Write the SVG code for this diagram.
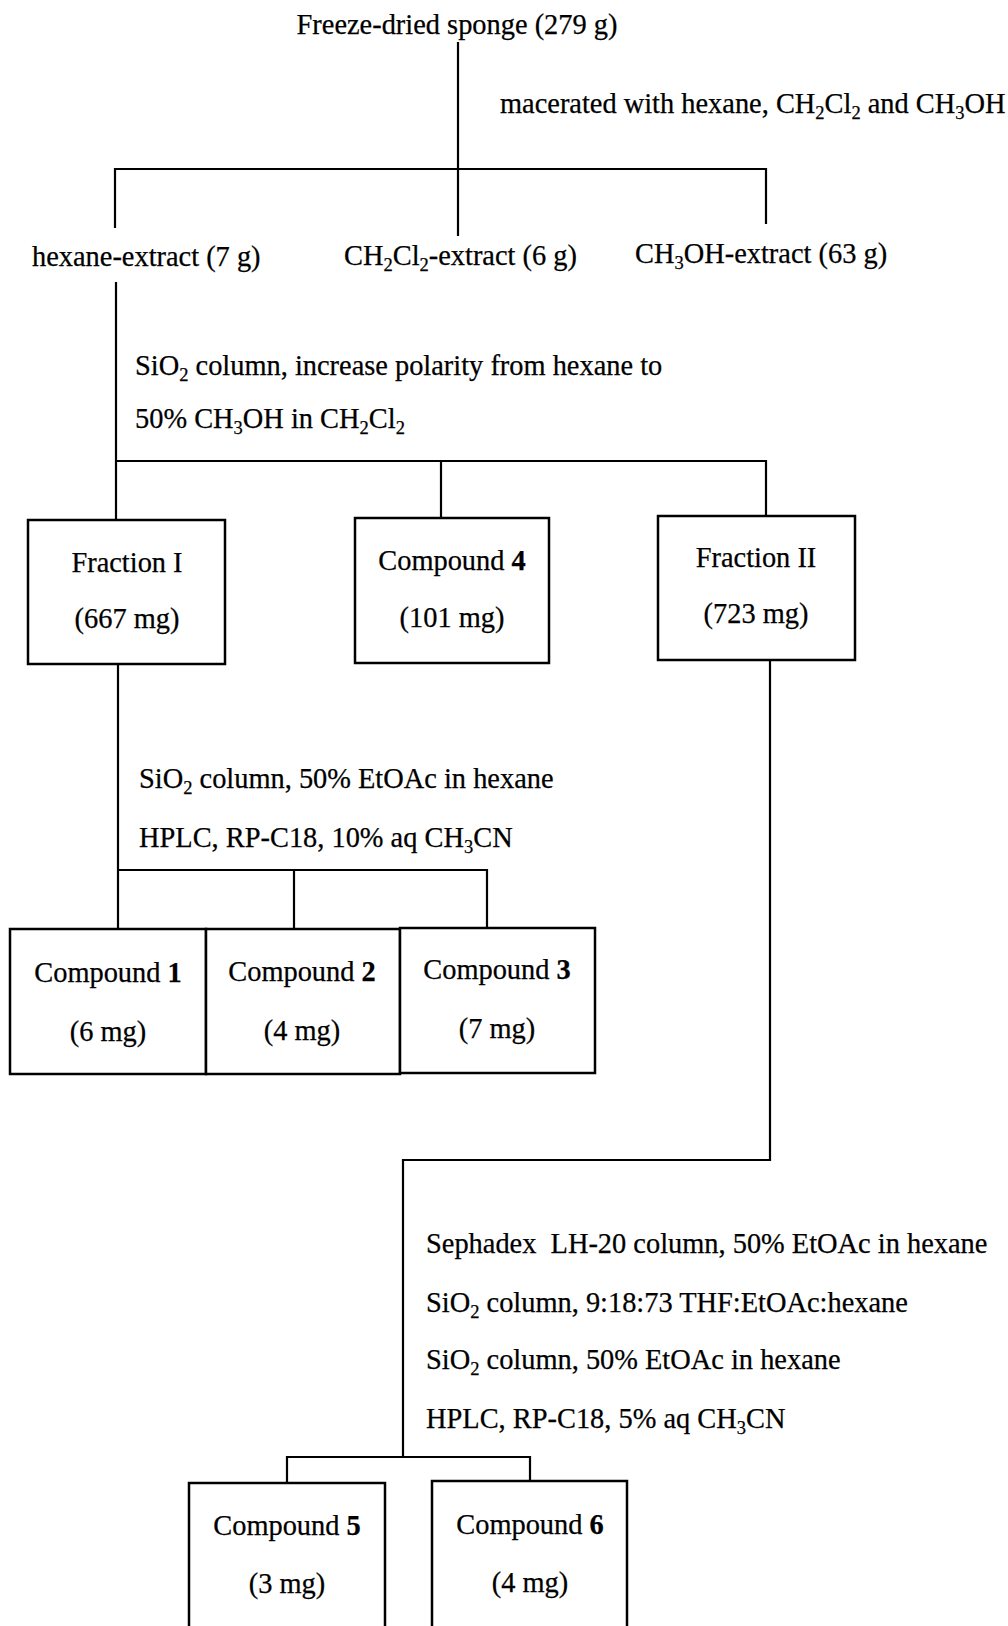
<svg xmlns="http://www.w3.org/2000/svg" width="1008" height="1626" viewBox="0 0 1008 1626">
<style>
text{font-family:"Liberation Serif","Times New Roman",serif;font-size:28.4px;fill:#000;stroke:#000;stroke-width:0.25}
.m{text-anchor:middle}
.s{font-size:18.5px}
.b{font-weight:bold}
.box{fill:#fff;stroke:#000;stroke-width:2.5}
.ln{fill:none;stroke:#000;stroke-width:2.2}
</style>
<rect width="1008" height="1626" fill="#fff"/>
<g id="connectors">
<path class="ln" d="M458 42V236"/>
<path class="ln" d="M115 228V169H766V224"/>
<path class="ln" d="M116 282V520"/>
<path class="ln" d="M116 461H766V516"/>
<path class="ln" d="M441 461V518"/>
<path class="ln" d="M118 664V929"/>
<path class="ln" d="M118 870H487V929"/>
<path class="ln" d="M294 870V929"/>
<path class="ln" d="M770 660V1160H403V1457"/>
<path class="ln" d="M287 1483V1457H530V1482"/>
</g>
<g id="step-labels">
<text x="500" y="113">macerated with hexane, CH<tspan class="s" dy="6">2</tspan><tspan dy="-6">Cl</tspan><tspan class="s" dy="6">2</tspan><tspan dy="-6"> and CH</tspan><tspan class="s" dy="6">3</tspan><tspan dy="-6">OH</tspan></text>
<text x="135" y="375">SiO<tspan class="s" dy="6">2</tspan><tspan dy="-6"> column, increase polarity from hexane to</tspan></text>
<text x="135" y="428">50% CH<tspan class="s" dy="6">3</tspan><tspan dy="-6">OH in CH</tspan><tspan class="s" dy="6">2</tspan><tspan dy="-6">Cl</tspan><tspan class="s" dy="6">2</tspan></text>
<text x="139" y="788">SiO<tspan class="s" dy="6">2</tspan><tspan dy="-6"> column, 50% EtOAc in hexane</tspan></text>
<text x="139" y="847">HPLC, RP-C18, 10% aq CH<tspan class="s" dy="6">3</tspan><tspan dy="-6">CN</tspan></text>
<text x="426" y="1253" xml:space="preserve">Sephadex  LH-20 column, 50% EtOAc in hexane</text>
<text x="426" y="1312">SiO<tspan class="s" dy="6">2</tspan><tspan dy="-6"> column, 9:18:73 THF:EtOAc:hexane</tspan></text>
<text x="426" y="1369">SiO<tspan class="s" dy="6">2</tspan><tspan dy="-6"> column, 50% EtOAc in hexane</tspan></text>
<text x="426" y="1428">HPLC, RP-C18, 5% aq CH<tspan class="s" dy="6">3</tspan><tspan dy="-6">CN</tspan></text>
</g>
<g id="sponge"><text class="m" x="457" y="34">Freeze-dried sponge (279 g)</text></g>
<g id="hexane-extract"><text x="32" y="266">hexane-extract (7 g)</text></g>
<g id="ch2cl2-extract"><text x="344" y="265">CH<tspan class="s" dy="6">2</tspan><tspan dy="-6">Cl</tspan><tspan class="s" dy="6">2</tspan><tspan dy="-6">-extract (6 g)</tspan></text></g>
<g id="ch3oh-extract"><text x="635" y="263">CH<tspan class="s" dy="6">3</tspan><tspan dy="-6">OH-extract (63 g)</tspan></text></g>
<g id="fraction-1"><rect class="box" x="28" y="520" width="197" height="144"/><text class="m" x="127" y="572">Fraction I</text><text class="m" x="127" y="628">(667 mg)</text></g>
<g id="compound-4"><rect class="box" x="355" y="518" width="194" height="145"/><text class="m" x="452" y="570">Compound <tspan class="b">4</tspan></text><text class="m" x="452" y="627">(101 mg)</text></g>
<g id="fraction-2"><rect class="box" x="658" y="516" width="197" height="144"/><text class="m" x="756" y="567">Fraction II</text><text class="m" x="756" y="623">(723 mg)</text></g>
<g id="compound-1"><rect class="box" x="10" y="929" width="196" height="145"/><text class="m" x="108" y="982">Compound <tspan class="b">1</tspan></text><text class="m" x="108" y="1041">(6 mg)</text></g>
<g id="compound-2"><rect class="box" x="206" y="929" width="194" height="145"/><text class="m" x="302" y="981">Compound <tspan class="b">2</tspan></text><text class="m" x="302" y="1040">(4 mg)</text></g>
<g id="compound-3"><rect class="box" x="400" y="928" width="195" height="145"/><text class="m" x="497" y="979">Compound <tspan class="b">3</tspan></text><text class="m" x="497" y="1038">(7 mg)</text></g>
<g id="compound-5"><rect class="box" x="189" y="1483" width="196" height="160"/><text class="m" x="287" y="1535">Compound <tspan class="b">5</tspan></text><text class="m" x="287" y="1593">(3 mg)</text></g>
<g id="compound-6"><rect class="box" x="432" y="1481" width="195" height="160"/><text class="m" x="530" y="1534">Compound <tspan class="b">6</tspan></text><text class="m" x="530" y="1592">(4 mg)</text></g>
</svg>
